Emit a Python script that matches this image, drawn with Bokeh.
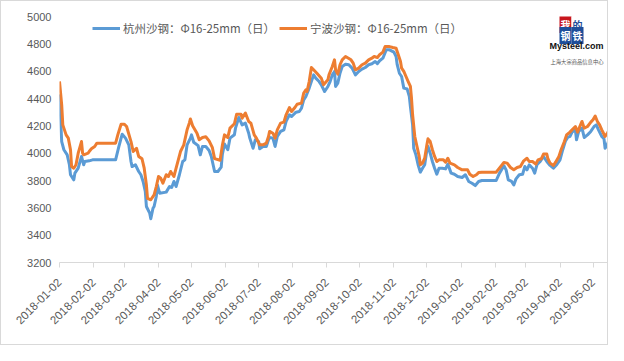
import math
import pandas as pd
from bokeh.plotting import figure
from bokeh.models import (FixedTicker, DatetimeTickFormatter, Range1d, Legend,
                          LegendItem, Label)
from bokeh.embed import file_html
from bokeh.resources import INLINE

# ---------------- data ----------------
series_names = ["杭州沙钢：Φ16-25mm（日）", "宁波沙钢：Φ16-25mm（日）"]

hz_dates = [
    "2018-01-02", "2018-01-04", "2018-01-06", "2018-01-09", "2018-01-11", "2018-01-12",
    "2018-01-15", "2018-01-16", "2018-01-19", "2018-01-22", "2018-01-24", "2018-01-25",
    "2018-01-29", "2018-02-01", "2018-02-22", "2018-02-25", "2018-02-28", "2018-03-03",
    "2018-03-06", "2018-03-08", "2018-03-09", "2018-03-12", "2018-03-15", "2018-03-17",
    "2018-03-19", "2018-03-21", "2018-03-22", "2018-03-25", "2018-03-26", "2018-03-28",
    "2018-03-29", "2018-03-31", "2018-04-01", "2018-04-03", "2018-04-09", "2018-04-12",
    "2018-04-14", "2018-04-16", "2018-04-18", "2018-04-21", "2018-04-24", "2018-04-26",
    "2018-04-28", "2018-05-01", "2018-05-02", "2018-05-04", "2018-05-08", "2018-05-10",
    "2018-05-12", "2018-05-15", "2018-05-18", "2018-05-20", "2018-05-23", "2018-05-26",
    "2018-05-29", "2018-05-30", "2018-06-01", "2018-06-04", "2018-06-06", "2018-06-10",
    "2018-06-11", "2018-06-14", "2018-06-17", "2018-06-20", "2018-06-23", "2018-06-24",
    "2018-06-27", "2018-06-29", "2018-07-02", "2018-07-03", "2018-07-06", "2018-07-09",
    "2018-07-11", "2018-07-12", "2018-07-15", "2018-07-17", "2018-07-19", "2018-07-22",
    "2018-07-25", "2018-07-27", "2018-07-30", "2018-08-01", "2018-08-05", "2018-08-08",
    "2018-08-10", "2018-08-12", "2018-08-14", "2018-08-17", "2018-08-21", "2018-08-23",
    "2018-08-26", "2018-08-28", "2018-08-31", "2018-09-03", "2018-09-05", "2018-09-07",
    "2018-09-09", "2018-09-10", "2018-09-12", "2018-09-14", "2018-09-16", "2018-09-19",
    "2018-09-22", "2018-09-25", "2018-09-28", "2018-10-01", "2018-10-04", "2018-10-07",
    "2018-10-10", "2018-10-13", "2018-10-16", "2018-10-18", "2018-10-20", "2018-10-23",
    "2018-10-26", "2018-10-29", "2018-11-02", "2018-11-04", "2018-11-05", "2018-11-07",
    "2018-11-09", "2018-11-11", "2018-11-14", "2018-11-16", "2018-11-17", "2018-11-19",
    "2018-11-20", "2018-11-22", "2018-11-24", "2018-11-26", "2018-11-28", "2018-11-30",
    "2018-12-02", "2018-12-03", "2018-12-05", "2018-12-07", "2018-12-09", "2018-12-11",
    "2018-12-13", "2018-12-16", "2018-12-19", "2018-12-21", "2018-12-24", "2018-12-27",
    "2018-12-30", "2019-01-03", "2019-01-06", "2019-01-09", "2019-01-12", "2019-01-15",
    "2019-01-18", "2019-01-21", "2019-02-03", "2019-02-06", "2019-02-10", "2019-02-12",
    "2019-02-14", "2019-02-17", "2019-02-19", "2019-02-21", "2019-02-24", "2019-02-27",
    "2019-03-01", "2019-03-03", "2019-03-05", "2019-03-08", "2019-03-10", "2019-03-12",
    "2019-03-15", "2019-03-18", "2019-03-21", "2019-03-24", "2019-03-27", "2019-03-30",
    "2019-04-02", "2019-04-04", "2019-04-07", "2019-04-09", "2019-04-11", "2019-04-13",
    "2019-04-16", "2019-04-17", "2019-04-19", "2019-04-22", "2019-04-24", "2019-04-27",
    "2019-04-30", "2019-05-03", "2019-05-05", "2019-05-07", "2019-05-10", "2019-05-12",
    "2019-05-13", "2019-05-15", "2019-05-16",
]
hz_vals = [
    4430, 4085, 4025, 3988, 3915, 3842,
    3805, 3854, 3890, 3976, 3915, 3939,
    3944, 3951, 3951, 4049, 4139, 4110,
    4061, 3939, 3902, 3915, 3866, 3842,
    3793, 3720, 3610, 3561, 3520, 3597,
    3610, 3683, 3768, 3707, 3715, 3756,
    3749, 3793, 3756, 3842, 3939, 3951,
    4061, 4110, 4134, 4080, 4055, 3988,
    4049, 4049, 4020, 3976, 3866, 3866,
    3898, 3988, 4067, 4025, 4110, 4135,
    4183, 4261, 4207, 4220, 4146, 4110,
    4036, 4098, 4085, 4032, 4049, 4049,
    4098, 4115, 4110, 4049, 4122, 4159,
    4171, 4232, 4281, 4268, 4300, 4305,
    4329, 4390, 4415, 4476, 4573, 4549,
    4524, 4500, 4451, 4488, 4524, 4573,
    4598, 4488, 4512, 4585, 4634, 4651,
    4647, 4622, 4573, 4598, 4615, 4627,
    4647, 4654, 4671, 4655, 4676, 4695,
    4756, 4756, 4739, 4707, 4647, 4585,
    4561, 4476, 4470, 4415, 4341, 4207,
    4036, 3988, 3915, 3861, 3890, 3915,
    4025, 4049, 4000, 3939, 3890, 3846,
    3890, 3890, 3885, 3920, 3854, 3846,
    3829, 3822, 3842, 3793, 3780, 3763,
    3793, 3800, 3800, 3854, 3908, 3878,
    3805, 3793, 3768, 3812, 3842, 3846,
    3902, 3878, 3915, 3890, 3854, 3915,
    3939, 3976, 3939, 3910, 3890, 3915,
    3951, 4012, 4090, 4115, 4122, 4154,
    4171, 4098, 4159, 4183, 4115, 4134,
    4159, 4195, 4207, 4171, 4122, 4105,
    4036, 4061, 4085,
]

nb_dates = [
    "2018-01-02", "2018-01-04", "2018-01-05", "2018-01-08", "2018-01-10", "2018-01-12",
    "2018-01-13", "2018-01-15", "2018-01-17", "2018-01-19", "2018-01-22", "2018-01-23",
    "2018-01-24", "2018-01-28", "2018-01-29", "2018-01-31", "2018-02-03", "2018-02-05",
    "2018-02-22", "2018-02-24", "2018-02-27", "2018-03-02", "2018-03-04", "2018-03-08",
    "2018-03-10", "2018-03-13", "2018-03-15", "2018-03-18", "2018-03-20", "2018-03-22",
    "2018-03-23", "2018-03-26", "2018-03-29", "2018-03-31", "2018-04-02", "2018-04-04",
    "2018-04-06", "2018-04-09", "2018-04-11", "2018-04-13", "2018-04-16", "2018-04-18",
    "2018-04-20", "2018-04-22", "2018-04-25", "2018-04-28", "2018-04-30", "2018-05-01",
    "2018-05-03", "2018-05-07", "2018-05-09", "2018-05-12", "2018-05-15", "2018-05-18",
    "2018-05-21", "2018-05-23", "2018-05-28", "2018-05-30", "2018-06-01", "2018-06-04",
    "2018-06-06", "2018-06-10", "2018-06-12", "2018-06-16", "2018-06-17", "2018-06-20",
    "2018-06-23", "2018-06-25", "2018-06-28", "2018-06-30", "2018-07-03", "2018-07-06",
    "2018-07-09", "2018-07-11", "2018-07-12", "2018-07-15", "2018-07-17", "2018-07-19",
    "2018-07-22", "2018-07-25", "2018-07-27", "2018-07-30", "2018-08-01", "2018-08-04",
    "2018-08-06", "2018-08-10", "2018-08-12", "2018-08-14", "2018-08-15", "2018-08-17",
    "2018-08-19", "2018-08-21", "2018-08-24", "2018-08-28", "2018-08-30", "2018-09-03",
    "2018-09-04", "2018-09-07", "2018-09-09", "2018-09-10", "2018-09-12", "2018-09-14",
    "2018-09-16", "2018-09-19", "2018-09-24", "2018-09-26", "2018-09-28", "2018-10-01",
    "2018-10-04", "2018-10-07", "2018-10-10", "2018-10-13", "2018-10-15", "2018-10-18",
    "2018-10-20", "2018-10-23", "2018-10-25", "2018-10-29", "2018-11-01", "2018-11-04",
    "2018-11-06", "2018-11-08", "2018-11-09", "2018-11-11", "2018-11-13", "2018-11-15",
    "2018-11-17", "2018-11-18", "2018-11-19", "2018-11-21", "2018-11-23", "2018-11-25",
    "2018-11-26", "2018-11-28", "2018-11-30", "2018-12-02", "2018-12-03", "2018-12-05",
    "2018-12-07", "2018-12-09", "2018-12-11", "2018-12-13", "2018-12-17", "2018-12-19",
    "2018-12-21", "2018-12-23", "2018-12-27", "2018-12-30", "2019-01-03", "2019-01-08",
    "2019-01-10", "2019-01-13", "2019-01-16", "2019-01-18", "2019-01-21", "2019-02-03",
    "2019-02-07", "2019-02-10", "2019-02-13", "2019-02-16", "2019-02-19", "2019-02-22",
    "2019-02-25", "2019-02-28", "2019-03-03", "2019-03-05", "2019-03-08", "2019-03-11",
    "2019-03-13", "2019-03-16", "2019-03-18", "2019-03-21", "2019-03-22", "2019-03-24",
    "2019-03-27", "2019-03-29", "2019-04-01", "2019-04-03", "2019-04-06", "2019-04-08",
    "2019-04-11", "2019-04-13", "2019-04-16", "2019-04-18", "2019-04-20", "2019-04-22",
    "2019-04-24", "2019-04-27", "2019-04-30", "2019-05-02", "2019-05-04", "2019-05-06",
    "2019-05-08", "2019-05-10", "2019-05-13", "2019-05-15", "2019-05-16",
]
nb_vals = [
    4525, 4354, 4207, 4134, 4110, 4025,
    3902, 3890, 3915, 4000, 4085, 4000,
    3988, 4000, 4012, 4032, 4049, 4073,
    4073, 4134, 4212, 4212, 4195, 4085,
    4012, 4036, 3976, 3959, 3890, 3768,
    3670, 3659, 3695, 3756, 3829, 3817,
    3780, 3842, 3829, 3866, 3829, 3890,
    3951, 4012, 4061, 4171, 4220, 4250,
    4200, 4146, 4098, 4115, 4120, 4090,
    4040, 3960, 3948, 4055, 4134, 4115,
    4183, 4215, 4285, 4285, 4256, 4293,
    4232, 4220, 4134, 4110, 4061, 4061,
    4073, 4122, 4159, 4146, 4110, 4171,
    4220, 4227, 4281, 4334, 4305, 4334,
    4358, 4366, 4439, 4463, 4451, 4524,
    4627, 4610, 4585, 4549, 4500, 4537,
    4573, 4634, 4683, 4610, 4578, 4647,
    4683, 4707, 4683, 4659, 4610, 4622,
    4647, 4659, 4683, 4695, 4707, 4700,
    4720, 4739, 4780, 4780, 4773, 4768,
    4720, 4671, 4622, 4598, 4561, 4524,
    4488, 4402, 4281, 4122, 4049, 3976,
    3915, 3927, 3963, 4061, 4105, 4085,
    4025, 3976, 3939, 3951, 3951, 3934,
    3963, 3927, 3915, 3895, 3878, 3878,
    3846, 3829, 3842, 3858, 3861, 3861,
    3902, 3932, 3927, 3895, 3878, 3895,
    3902, 3944, 3963, 3939, 3939, 3920,
    3951, 3959, 3993, 3993, 3959, 3927,
    3910, 3934, 3976, 4025, 4085, 4134,
    4154, 4171, 4195, 4154, 4195, 4232,
    4183, 4195, 4227, 4244, 4272, 4232,
    4207, 4171, 4122, 4146, 4159,
]

xtick_labels = [
    "2018-01-02", "2018-02-02", "2018-03-02", "2018-04-02", "2018-05-02", "2018-06-02",
    "2018-07-02", "2018-08-02", "2018-09-02", "2018-10-02", "2018-11-02", "2018-12-02",
    "2019-01-02", "2019-02-02", "2019-03-02", "2019-04-02", "2019-05-02",
]
ytick_vals = [3200, 3400, 3600, 3800, 4000, 4200, 4400, 4600, 4800, 5000]
x_start, x_end = "2018-01-02", "2019-05-17"
y_start, y_end = 3200, 5000

# ---------------- styles ----------------
BLUE = "#5B9BD5"
ORANGE = "#ED7D31"
TXT = "#595959"
AXIS = "#D9D9D9"
LAT = "Liberation Sans"
CJK = "Noto Sans CJK SC"

p = figure(width=608, height=345, x_axis_type="datetime",
           output_backend="svg", toolbar_location=None,
           x_range=Range1d(pd.Timestamp(x_start), pd.Timestamp(x_end)),
           y_range=Range1d(y_start, y_end),
           min_border_left=58, min_border_right=0,
           min_border_top=15, min_border_bottom=84)
p.styles = {"border": "1px solid #D9D9D9"}
p.outline_line_color = None
p.xgrid.visible = False
p.ygrid.visible = False
p.background_fill_color = "white"
p.border_fill_color = "white"

r_hz = p.line(pd.to_datetime(hz_dates), hz_vals, line_color=BLUE,
              line_width=3, line_join="round")
r_nb = p.line(pd.to_datetime(nb_dates), nb_vals, line_color=ORANGE,
              line_width=3, line_join="round")

# y axis
yax = p.yaxis[0]
yax.ticker = FixedTicker(ticks=ytick_vals)
yax.axis_line_color = None
yax.major_tick_line_color = None
yax.minor_tick_line_color = None
yax.major_tick_out = 0
yax.major_tick_in = 0
yax.major_label_standoff = 8
yax.major_label_text_font = LAT
yax.major_label_text_font_size = "11px"
yax.major_label_text_color = TXT

# x axis
xax = p.xaxis[0]
tick_ms = [pd.Timestamp(t).value / 1e6 for t in xtick_labels]
xax.ticker = FixedTicker(ticks=tick_ms)
fmt = "%Y-%m-%d"
xax.formatter = DatetimeTickFormatter(
    milliseconds=fmt, seconds=fmt, minsec=fmt, minutes=fmt, hourmin=fmt,
    hours=fmt, days=fmt, months=fmt, years=fmt)
xax.axis_line_color = AXIS
xax.major_tick_line_color = AXIS
xax.minor_tick_line_color = None
xax.major_tick_out = 5
xax.major_tick_in = 0
xax.major_label_orientation = math.pi / 4
xax.major_label_standoff = 13
xax.major_label_text_font = LAT
xax.major_label_text_font_size = "11.5px"
xax.major_label_text_color = TXT

# legend
legend = Legend(items=[LegendItem(label=series_names[0], renderers=[r_hz]),
                       LegendItem(label=series_names[1], renderers=[r_nb])],
                orientation="horizontal", location=(33, 226),
                border_line_color=None, background_fill_alpha=0,
                padding=0, margin=0, spacing=4, glyph_width=28,
                glyph_height=14, label_height=14, label_standoff=3,
                label_text_font=CJK, label_text_font_size="11.5px",
                label_text_color=TXT)
p.add_layout(legend)

# logo (Mysteel)
logo_chars = [("我", "#C8161D", "white", 506, 238),
              ("的", "white", "#1F4E9A", 518, 238),
              ("钢", "#1F4E9A", "white", 506, 227),
              ("铁", "#1F4E9A", "white", 518, 227)]
for ch, bg, fg, lx, ly in logo_chars:
    p.add_layout(Label(x=lx, y=ly, x_units="screen", y_units="screen", text=ch,
                       text_font=CJK, text_font_size="10px", text_color=fg,
                       text_align="center", text_baseline="middle",
                       background_fill_color=bg, padding=1,
                       text_font_style="bold"))
p.add_layout(Label(x=490, y=217, x_units="screen", y_units="screen",
                   text="Mysteel.com", text_font=LAT, text_font_size="9px",
                   text_font_style="bold", text_color="#111111",
                   text_align="left", text_baseline="middle"))
p.add_layout(Label(x=491, y=201, x_units="screen", y_units="screen",
                   text="上海大宗商品信息中心", text_font=CJK, text_font_size="5.3px",
                   text_color="#555555", text_align="left", text_baseline="middle"))

open("out.html", "w").write(file_html(p, INLINE))
